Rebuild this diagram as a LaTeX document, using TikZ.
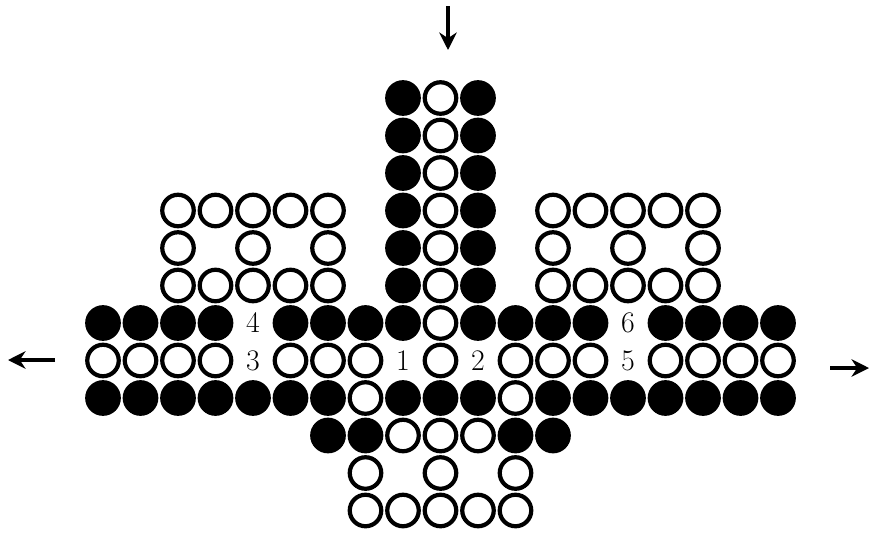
\documentclass[tikz,border=0pt]{standalone}
\usetikzlibrary{arrows.meta}

\begin{document}
\begin{tikzpicture}[
    x=0.02cm, y=-0.02cm,
    peg/.style={
      circle, draw, fill=black, line width=2.4pt,
      minimum size=6.3mm, inner sep=0pt,
    },
    hole/.style={
      circle, draw, fill=white, line width=2.4pt,
      minimum size=6.3mm, inner sep=0pt,
    },
    num/.style={font=\fontsize{17}{19}\selectfont, inner sep=0pt},
    move/.style={-{Stealth[length=3.5mm, width=3.5mm]}, line width=2.2pt},
  ]

  \useasboundingbox (0,0) rectangle (872,538);

  % Grid: column c at x = 103 + 37.5c, row t at y = 60.5 + 37.5t

  % Central column above the cross row
  \foreach \t in {1,...,6} {
    \foreach \c in {8,10}
      \node[peg] (peg-\c-\t) at ({103+37.5*\c},{60.5+37.5*\t}) {};
    \node[hole] (hole-9-\t) at ({103+37.5*9},{60.5+37.5*\t}) {};
  }

  % Side blocks of open holes
  \foreach \c/\t in {2/4,3/4,4/4,5/4,6/4, 2/5,4/5,6/5, 2/6,3/6,4/6,5/6,6/6,
                     12/4,13/4,14/4,15/4,16/4, 12/5,14/5,16/5,
                     12/6,13/6,14/6,15/6,16/6}
    \node[hole] (hole-\c-\t) at ({103+37.5*\c},{60.5+37.5*\t}) {};

  % Cross rows and lower block, filled pegs
  \foreach \c/\t in {0/7,1/7,2/7,3/7,5/7,6/7,7/7,8/7,10/7,11/7,12/7,13/7,
                     15/7,16/7,17/7,18/7,
                     0/9,1/9,2/9,3/9,4/9,5/9,6/9,8/9,9/9,10/9,
                     12/9,13/9,14/9,15/9,16/9,17/9,18/9,
                     6/10,7/10,11/10,12/10}
    \node[peg] (peg-\c-\t) at ({103+37.5*\c},{60.5+37.5*\t}) {};

  % Cross rows and lower block, open holes
  \foreach \c/\t in {9/7,
                     0/8,1/8,2/8,3/8,5/8,6/8,7/8,9/8,11/8,12/8,13/8,
                     15/8,16/8,17/8,18/8,
                     7/9,11/9,
                     8/10,9/10,10/10,
                     7/11,9/11,11/11,
                     7/12,8/12,9/12,10/12,11/12}
    \node[hole] (hole-\c-\t) at ({103+37.5*\c},{60.5+37.5*\t}) {};

  % Numbered gaps
  \node[num] (n4) at ({103+37.5*4},{60.5+37.5*7}) {4};
  \node[num] (n3) at ({103+37.5*4},{60.5+37.5*8}) {3};
  \node[num] (n1) at ({103+37.5*8},{60.5+37.5*8}) {1};
  \node[num] (n2) at ({103+37.5*10},{60.5+37.5*8}) {2};
  \node[num] (n6) at ({103+37.5*14},{60.5+37.5*7}) {6};
  \node[num] (n5) at ({103+37.5*14},{60.5+37.5*8}) {5};

  % Direction arrows
  \coordinate (topStart)   at (448,6);
  \coordinate (topEnd)     at (448,50);
  \coordinate (leftStart)  at (55,360);
  \coordinate (leftEnd)    at (8,360);
  \coordinate (rightStart) at (830,368);
  \coordinate (rightEnd)   at (869,368);

  \draw[move] (topStart) -- (topEnd);
  \draw[move] (leftStart) -- (leftEnd);
  \draw[move] (rightStart) -- (rightEnd);

\end{tikzpicture}
\end{document}
